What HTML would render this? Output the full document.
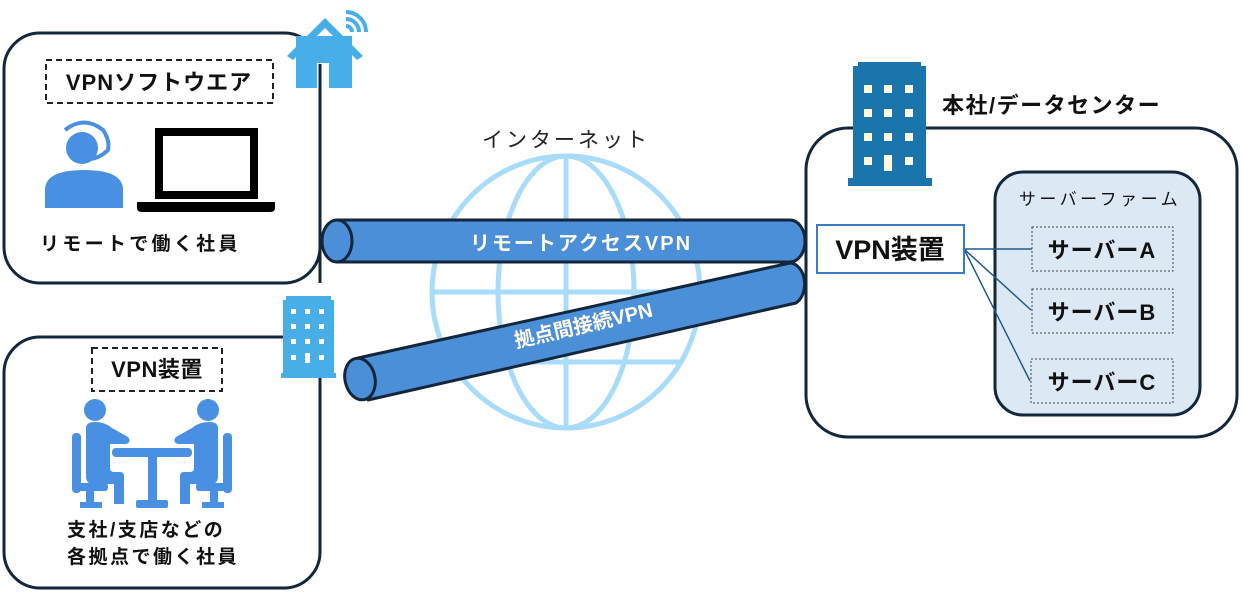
<!DOCTYPE html>
<html><head><meta charset="utf-8"><style>
html,body{margin:0;padding:0;background:#fff;}
svg{display:block;}
text{font-family:"Liberation Sans","Noto Sans CJK JP",sans-serif;}
</style></head><body>
<svg width="1243" height="596" viewBox="0 0 1243 596" xmlns="http://www.w3.org/2000/svg">
<!-- globe -->
<g fill="none" stroke="#a8dcfa" stroke-width="5">
<ellipse cx="566" cy="292" rx="134" ry="136"/>
<ellipse cx="566" cy="292" rx="68" ry="136"/>
<line x1="566" y1="156" x2="566" y2="428"/>
<line x1="432" y1="292" x2="700" y2="292"/>
<line x1="450" y1="222" x2="682" y2="222"/>
<line x1="450" y1="362" x2="682" y2="362"/>
</g>
<text x="566" y="147" font-size="21" text-anchor="middle" fill="#222" letter-spacing="3">インターネット</text>

<!-- left box 1 -->
<rect x="4" y="33" width="316" height="250" rx="36" fill="#fff" stroke="#13263a" stroke-width="3"/>
<rect x="46" y="60" width="227" height="43" fill="none" stroke="#222" stroke-width="2" stroke-dasharray="6,4"/>
<text x="159" y="90" font-size="22" font-weight="bold" text-anchor="middle" fill="#111" letter-spacing="1">VPNソフトウエア</text>
<!-- person w headset -->
<circle cx="82" cy="148" r="16" fill="#4a90e2"/>
<path d="M45 208 V190 Q45 170 84 170 Q123 170 123 190 V208 Z" fill="#4a90e2"/>
<path d="M65 130 Q84 115 103 130 Q110 140 108 150 Q100 158 90 159" fill="none" stroke="#4a90e2" stroke-width="4"/>
<!-- laptop -->
<rect x="159" y="132" width="95" height="63" fill="none" stroke="#000" stroke-width="8"/>
<path d="M137 202 H275 V208 Q275 212 270 212 H142 Q137 212 137 208 Z" fill="#000"/>
<text x="40" y="250" font-size="19" font-weight="bold" fill="#111" letter-spacing="3.3">リモートで働く社員</text>
<!-- house -->
<rect x="296" y="36" width="56" height="52" fill="#46aee8"/>
<polygon points="325,18 287,56 293,60 325,28 357,60 363,56" fill="#46aee8"/>
<rect x="317" y="63" width="12" height="25" fill="#fff"/>
<line x1="320" y1="64" x2="320" y2="283" stroke="#13263a" stroke-width="3"/>
<g fill="none" stroke="#46aee8" stroke-width="4">
<path d="M346 26 A6 6 0 0 1 352 32"/>
<path d="M346 19 A13 13 0 0 1 359 32"/>
<path d="M346 12 A20 20 0 0 1 366 32"/>
</g>

<!-- left box 2 -->
<rect x="4" y="337" width="316" height="251" rx="36" fill="#fff" stroke="#13263a" stroke-width="3"/>
<rect x="92" y="348" width="130" height="43" fill="none" stroke="#222" stroke-width="2" stroke-dasharray="6,4"/>
<text x="157" y="377" font-size="22" font-weight="bold" text-anchor="middle" fill="#111" letter-spacing="0.5">VPN装置</text>
<!-- meeting icon -->
<g fill="#4a90e2">
<circle cx="95" cy="410" r="11"/>
<circle cx="208" cy="410" r="11"/>
<rect x="72" y="433" width="9" height="60" rx="4"/>
<rect x="223" y="433" width="9" height="60" rx="4"/>
<path d="M86 428 Q86 422 95 422 Q105 422 112 428 L128 437 Q132 442 126 444 L110 444 L110 468 Q110 472 114 472 L120 472 Q124 472 124 476 V504 H114 V484 H93 Q86 484 86 476 Z"/>
<path d="M218 428 Q218 422 209 422 Q199 422 192 428 L176 437 Q172 442 178 444 L194 444 L194 468 Q194 472 190 472 L184 472 Q180 472 180 476 V504 H190 V484 H211 Q218 484 218 476 Z"/>
<rect x="112" y="448" width="80" height="9" rx="4"/>
<rect x="148" y="455" width="9" height="50"/>
<rect x="136" y="500" width="32" height="8" rx="2"/>
<rect x="72" y="483" width="36" height="8" rx="3"/>
<rect x="86" y="488" width="8" height="18"/>
<rect x="80" y="502" width="22" height="6"/>
<rect x="196" y="483" width="36" height="8" rx="3"/>
<rect x="210" y="488" width="8" height="18"/>
<rect x="202" y="502" width="22" height="6"/>
</g>
<text x="67" y="536" font-size="19" font-weight="bold" fill="#111" letter-spacing="2.5">支社/支店などの</text>
<text x="67" y="563" font-size="19" font-weight="bold" fill="#111" letter-spacing="2.5">各拠点で働く社員</text>
<!-- small building -->
<path d="M286 296 H331 V300 H334 V373 H336 V378 H281 V373 H283 V300 H286 Z" fill="#47aee8"/>
<g fill="#fff">
<rect x="291" y="309" width="5" height="5"/><rect x="305" y="309" width="5" height="5"/><rect x="319" y="309" width="5" height="5"/>
<rect x="291" y="324" width="5" height="5"/><rect x="305" y="324" width="5" height="5"/><rect x="319" y="324" width="5" height="5"/>
<rect x="291" y="339" width="5" height="5"/><rect x="305" y="339" width="5" height="5"/><rect x="319" y="339" width="5" height="5"/>
<rect x="291" y="355" width="5" height="5"/><rect x="305" y="353" width="5" height="10"/><rect x="319" y="355" width="5" height="5"/>
</g>

<!-- right box -->
<rect x="806" y="128" width="431" height="309" rx="42" fill="#fff" stroke="#13263a" stroke-width="3"/>
<rect x="995" y="172" width="205" height="243" rx="28" fill="#dde8f5" stroke="#13263a" stroke-width="3"/>
<text x="1100" y="205" font-size="17" text-anchor="middle" fill="#111" letter-spacing="3.5">サーバーファーム</text>
<rect x="1032" y="227" width="141" height="44" fill="none" stroke="#444" stroke-width="1" stroke-dasharray="2,2"/>
<rect x="1032" y="289" width="141" height="44" fill="none" stroke="#444" stroke-width="1" stroke-dasharray="2,2"/>
<rect x="1031" y="359" width="142" height="44" fill="none" stroke="#444" stroke-width="1" stroke-dasharray="2,2"/>
<text x="1102" y="258" font-size="22" font-weight="bold" text-anchor="middle" fill="#111" letter-spacing="1">サーバーA</text>
<text x="1102" y="320" font-size="22" font-weight="bold" text-anchor="middle" fill="#111" letter-spacing="1">サーバーB</text>
<text x="1102" y="390" font-size="22" font-weight="bold" text-anchor="middle" fill="#111" letter-spacing="1">サーバーC</text>
<g stroke="#1f5a8a" stroke-width="1.5" fill="none">
<line x1="964" y1="249" x2="1032" y2="249"/>
<line x1="964" y1="249" x2="1031" y2="310"/>
<line x1="964" y1="249" x2="1030" y2="381"/>
</g>
<rect x="817" y="225" width="147" height="48" fill="#fff" stroke="#3b7dc4" stroke-width="2"/>
<text x="890" y="259" font-size="27" font-weight="bold" text-anchor="middle" fill="#111">VPN装置</text>
<!-- HQ building -->
<path d="M858 62 H921 V66 H926 V178 H932 V186 H848 V178 H853 V66 H858 Z" fill="#1b75ad"/>
<g fill="#fff8dc">
<rect x="864" y="85" width="8" height="8"/><rect x="884" y="85" width="8" height="8"/><rect x="905" y="85" width="8" height="8"/>
<rect x="864" y="109" width="8" height="8"/><rect x="884" y="109" width="8" height="8"/><rect x="905" y="109" width="8" height="8"/>
<rect x="864" y="133" width="8" height="8"/><rect x="884" y="133" width="8" height="8"/><rect x="905" y="133" width="8" height="8"/>
<rect x="864" y="157" width="8" height="8"/><rect x="884" y="155" width="8" height="16"/><rect x="905" y="157" width="8" height="8"/>
</g>
<text x="942" y="113" font-size="22" font-weight="bold" fill="#111" letter-spacing="1.5">本社/データセンター</text>

<!-- tubes -->
<g stroke="#13263a" stroke-width="3" fill="#4a8fd8">
<path d="M337 220 H790 A15 21 0 0 1 790 262 H337 Z"/>
<ellipse cx="337" cy="241" rx="15" ry="21"/>
<path d="M358 358 L790 263 A15 21 0 0 1 796 303 L368 400 Z" stroke-linejoin="round"/>
<ellipse cx="360" cy="379" rx="15" ry="21" transform="rotate(-12 360 379)"/>
</g>
<text x="581" y="250" font-size="20" font-weight="bold" text-anchor="middle" fill="#fffbe8" letter-spacing="2">リモートアクセスVPN</text>
<text x="585" y="332" font-size="20" font-weight="bold" text-anchor="middle" fill="#fffbe8" transform="rotate(-13 585 332)">拠点間接続VPN</text>
</svg>
</body></html>
